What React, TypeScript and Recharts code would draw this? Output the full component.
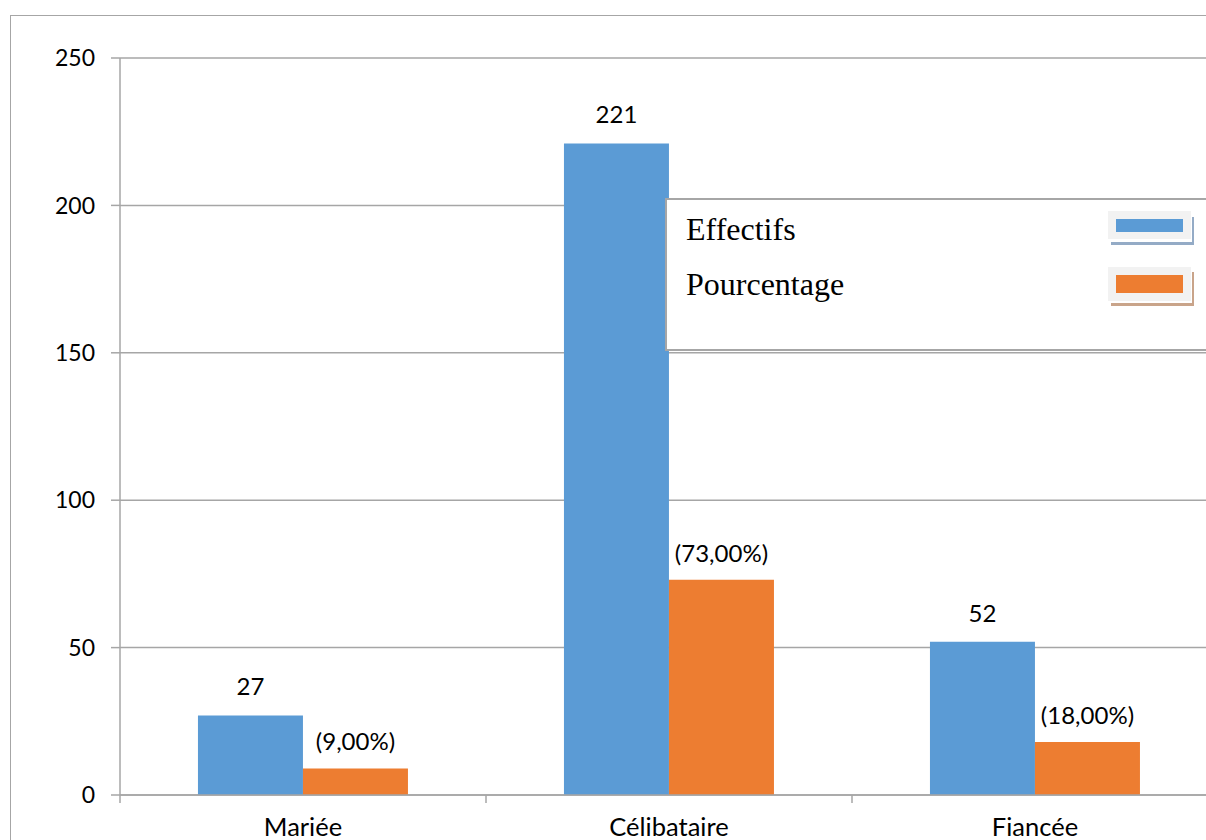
import { Bar, BarChart, CartesianGrid, LabelList, Legend, XAxis, YAxis } from 'recharts';

const CATEGORIES = ['Mariée', 'Célibataire', 'Fiancée'];
const EFFECTIFS = [27, 221, 52];
const POURCENTAGES = [9, 73, 18];
const Y_TICKS = [0, 50, 100, 150, 200, 250];

const BLUE = '#5B9BD5';
const ORANGE = '#ED7D31';
const AXIS = '#A6A6A6';
const FONT = 'Lato, "Open Sans", sans-serif';
const SERIF = '"Liberation Serif", "Times New Roman", serif';

const CHART_W = 1240;
const CHART_H = 860;
const MARGIN = { top: 58, right: 22, left: 10, bottom: 15 };
const Y_W = 110;
const X_TICK_SIZE = 8;
const X_TICK_MARGIN = 15;
const BAND = (CHART_W - MARGIN.left - MARGIN.right - Y_W) / CATEGORIES.length;

const data = CATEGORIES.map((name, i) => ({
  name,
  effectifs: EFFECTIFS[i],
  pourcentage: POURCENTAGES[i],
}));

const pct = (v: any) => `(${Number(v).toFixed(2).replace('.', ',')}%)`;

// Excel puts the category tick marks between the groups, not under them
function CategoryTick(props: any) {
  const { x, y, payload, index, visibleTicksCount } = props;
  const half = BAND / 2;
  const top = y - X_TICK_MARGIN - X_TICK_SIZE;
  return (
    <g>
      <line x1={x - half} x2={x - half} y1={top} y2={top + X_TICK_SIZE} stroke={AXIS} strokeWidth={1.5} />
      {index === visibleTicksCount - 1 && (
        <line x1={x + half} x2={x + half} y1={top} y2={top + X_TICK_SIZE} stroke={AXIS} strokeWidth={1.5} />
      )}
      <text x={x} y={y} dy="0.71em" textAnchor="middle" fontFamily={FONT} fontSize={25.5} fill="#000">
        {payload.value}
      </text>
    </g>
  );
}

function Swatch({ y, h, inner, color, shadow, drop }: any) {
  return (
    <g>
      <rect x={446} y={y + drop} width={83} height={h} fill={shadow} />
      <rect x={443} y={y} width={84} height={h + drop - 3} fill="#fff" />
      <rect x={443} y={y} width={83} height={h} fill="#F2F2F2" />
      <rect x={451} y={y + 8} width={67} height={inner} fill={color} />
    </g>
  );
}

function LegendBox() {
  return (
    <div
      style={{
        position: 'relative',
        width: 560,
        height: 153,
        boxSizing: 'border-box',
        border: `2px solid ${AXIS}`,
        background: '#fff',
      }}
    >
      <svg width={560} height={153} style={{ position: 'absolute', left: -2, top: -2 }}>
        <text x={21} y={42} fontFamily={SERIF} fontSize={32} fill="#000">
          Effectifs
        </text>
        <text x={21} y={97} fontFamily={SERIF} fontSize={32} fill="#000">
          Pourcentage
        </text>
        <Swatch y={13} h={28} drop={6} inner={13} color={BLUE} shadow="#94ABC6" />
        <Swatch y={69} h={34} drop={5} inner={18} color={ORANGE} shadow="#C9A48A" />
      </svg>
    </div>
  );
}

export default function App() {
  return (
    <div style={{ position: 'absolute', left: 0, top: 0, width: 1206, height: 840, overflow: 'hidden', background: '#fff' }}>
      <div
        style={{
          position: 'absolute',
          left: 10,
          top: 15,
          width: 1300,
          height: 900,
          border: `1.5px solid ${AXIS}`,
        }}
      />
      <div style={{ position: 'absolute', left: 0, top: 0 }}>
        <BarChart width={CHART_W} height={CHART_H} data={data} margin={MARGIN} barCategoryGap="21.3%" barGap={0}>
          <CartesianGrid vertical={false} stroke={AXIS} strokeWidth={1.5} />
          <XAxis
            dataKey="name"
            height={50}
            axisLine={{ stroke: AXIS, strokeWidth: 1.5 }}
            tickLine={false}
            tickSize={X_TICK_SIZE}
            tickMargin={X_TICK_MARGIN}
            tick={<CategoryTick />}
            interval={0}
          />
          <YAxis
            width={Y_W}
            domain={[0, 250]}
            ticks={Y_TICKS}
            interval={0}
            axisLine={{ stroke: AXIS, strokeWidth: 1.5 }}
            tickLine={{ stroke: AXIS, strokeWidth: 1.5 }}
            tickSize={9}
            tickMargin={16}
            tick={{ fontFamily: FONT, fontSize: 23, fill: '#000' }}
          />
          <Legend
            layout="vertical"
            align="center"
            verticalAlign="middle"
            content={<LegendBox />}
            wrapperStyle={{ left: 665, top: 198, width: 560, height: 153, right: 'auto', bottom: 'auto' }}
          />
          <Bar dataKey="effectifs" name="Effectifs" fill={BLUE} isAnimationActive={false}>
            <LabelList dataKey="effectifs" position="top" offset={20} fill="#000" fontFamily={FONT} fontSize={24} />
          </Bar>
          <Bar dataKey="pourcentage" name="Pourcentage" fill={ORANGE} isAnimationActive={false}>
            <LabelList
              dataKey="pourcentage"
              position="top"
              offset={18}
              formatter={pct}
              fill="#000"
              fontFamily={FONT}
              fontSize={24}
            />
          </Bar>
        </BarChart>
      </div>
    </div>
  );
}
